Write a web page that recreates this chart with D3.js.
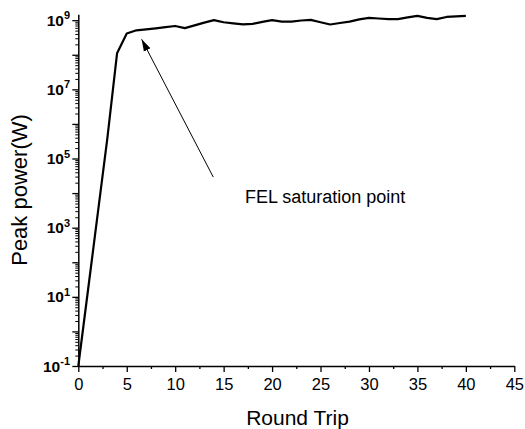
<!DOCTYPE html>
<html>
<head>
<meta charset="utf-8">
<script src="https://cdn.jsdelivr.net/npm/d3@7"></script>
<style>
  body { margin: 0; background: #fff; }
  text { font-family: Arial, "Liberation Sans", sans-serif; }
</style>
</head>
<body>
<script>
// data
const roundTrip = [0, 1, 2, 3, 4, 5, 6, 7, 8, 9, 10, 11, 12, 13, 14, 15, 16, 17, 18, 19, 20,
  21, 22, 23, 24, 25, 26, 27, 28, 29, 30, 31, 32, 33, 34, 35, 36, 37, 38, 39, 40];
const peakPower = [0.1, 15.5, 2450, 3.9e5, 1.1e8, 4.1e8, 5.1e8, 5.4e8, 5.8e8, 6.3e8, 6.8e8,
  5.9e8, 7.1e8, 8.5e8, 1.0e9, 8.7e8, 8.1e8, 7.6e8, 7.8e8, 8.9e8, 1.0e9,
  9.1e8, 9.1e8, 9.8e8, 1.02e9, 8.7e8, 7.5e8, 8.3e8, 9.1e8, 1.05e9, 1.17e9,
  1.12e9, 1.07e9, 1.07e9, 1.2e9, 1.33e9, 1.17e9, 1.07e9, 1.24e9, 1.29e9, 1.33e9];

const xTicks = [0, 5, 10, 15, 20, 25, 30, 35, 40, 45];
const yExponents = [-1, 0, 1, 2, 3, 4, 5, 6, 7, 8, 9];
const yLabelExponents = [-1, 1, 3, 5, 7, 9];

const noteText = "FEL saturation point";
const arrowFrom = [13.93, 2.9e4];
const arrowTo = [6.54, 2.8e8];
const noteAt = [17.2, 5.2e3];

let width = 525;
let height = 429;

let x = d3.scaleLinear().domain([0, 45]).range([78.3, 514.3]);
let y = d3.scaleLog().domain([0.1, Math.pow(10, 9.17)]).range([366, 14.3]);

let svg = d3
  .select("body")
  .append("svg")
  .attr("width", width)
  .attr("height", height);

// arrow head
svg
  .append("defs")
  .append("marker")
  .attr("id", "head")
  .attr("viewBox", "0 0 12 10")
  .attr("refX", 12)
  .attr("refY", 5)
  .attr("markerWidth", 12)
  .attr("markerHeight", 10)
  .attr("markerUnits", "userSpaceOnUse")
  .attr("orient", "auto")
  .append("path")
  .attr("d", "M0,1.3 L12,5 L0,8.7 Z")
  .attr("fill", "#000");

// x axis
let xMinor = [];
xTicks.slice(0, -1).forEach((t) => xMinor.push(t + 2.5));

svg
  .append("g")
  .attr("transform", "translate(0,366)")
  .call(d3.axisBottom(x).tickValues(xMinor).tickSize(3).tickFormat(""))
  .call((g) => g.select(".domain").remove())
  .selectAll("line")
  .attr("stroke-width", 1.3);

let xAxis = svg
  .append("g")
  .attr("transform", "translate(0,366)")
  .call(d3.axisBottom(x).tickValues(xTicks).tickSize(6).tickSizeOuter(0).tickPadding(6));
xAxis.select(".domain").attr("stroke-width", 1.5);
xAxis.selectAll("line").attr("stroke-width", 1.3);
xAxis
  .selectAll("text")
  .attr("font-size", 16.5)
  .attr("font-family", "Arial, 'Liberation Sans', sans-serif")
  .attr("fill", "#000");

// y axis
let yMajor = yExponents.map((e) => Math.pow(10, e));
let yMinor = [];
yExponents.forEach((e) => {
  for (let k = 2; k <= 9; k++) {
    let v = k * Math.pow(10, e);
    if (v <= y.domain()[1]) yMinor.push(v);
  }
});

svg
  .append("g")
  .attr("transform", "translate(78.3,0)")
  .call(d3.axisLeft(y).tickValues(yMinor).tickSize(3).tickFormat(""))
  .call((g) => g.select(".domain").remove())
  .selectAll("line")
  .attr("stroke-width", 1);

let yAxis = svg
  .append("g")
  .attr("transform", "translate(78.3,0)")
  .call(d3.axisLeft(y).tickValues(yMajor).tickSize(6).tickSizeOuter(0).tickFormat(""));
yAxis.select(".domain").attr("stroke-width", 1.5);
yAxis.selectAll("line").attr("stroke-width", 1.3);

// y tick labels with superscript exponents
let yLabels = svg
  .append("g")
  .selectAll("text")
  .data(yLabelExponents)
  .enter()
  .append("text")
  .attr("x", 70)
  .attr("y", (d) => y(Math.pow(10, d)) + 5.5)
  .attr("text-anchor", "end")
  .attr("font-weight", "bold")
  .attr("font-size", 15.5)
  .attr("fill", "#000");
yLabels.append("tspan").text("10");
yLabels
  .append("tspan")
  .attr("dy", -6.5)
  .attr("font-size", 11)
  .text((d) => (d < 0 ? "-" + Math.abs(d) : d));

// axis titles
svg
  .append("text")
  .attr("x", 297.5)
  .attr("y", 425)
  .attr("text-anchor", "middle")
  .attr("font-size", 21)
  .text("Round Trip");

svg
  .append("text")
  .attr("transform", "translate(27,190) rotate(-90)")
  .attr("text-anchor", "middle")
  .attr("font-size", 22)
  .text("Peak power(W)");

// the curve
let line = d3
  .line()
  .x((d, i) => x(roundTrip[i]))
  .y((d) => y(d));

svg
  .append("path")
  .datum(peakPower)
  .attr("d", line)
  .attr("fill", "none")
  .attr("stroke", "#000")
  .attr("stroke-width", 2.2)
  .attr("stroke-linejoin", "round");

// annotation
svg
  .append("line")
  .attr("x1", x(arrowFrom[0]))
  .attr("y1", y(arrowFrom[1]))
  .attr("x2", x(arrowTo[0]))
  .attr("y2", y(arrowTo[1]))
  .attr("stroke", "#000")
  .attr("stroke-width", 1)
  .attr("marker-end", "url(#head)");

svg
  .append("text")
  .attr("x", x(noteAt[0]))
  .attr("y", y(noteAt[1]))
  .attr("font-size", 18)
  .text(noteText);
</script>
</body>
</html>
